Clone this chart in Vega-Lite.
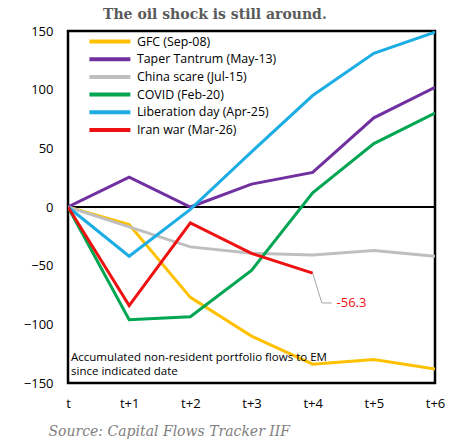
{
  "$schema": "https://vega.github.io/schema/vega-lite/v6.json",
  "autosize": "none",
  "width": 367,
  "height": 352,
  "padding": {"left": 68, "top": 31, "right": 33, "bottom": 56},
  "background": "white",
  "config": {
    "view": {"stroke": "black", "strokeWidth": 2.5},
    "font": "Open Sans"
  },
  "title": {
    "text": "The oil shock is still around.",
    "font": "DejaVu Serif",
    "fontSize": 14,
    "fontWeight": "bold",
    "color": "#5a5a5a",
    "anchor": "start",
    "frame": "group",
    "baseline": "alphabetic",
    "dx": 35,
    "dy": 13,
    "offset": 5
  },
  "datasets": {
    "flows": [
      {"series": "GFC (Sep-08)", "t": 0, "value": 0},
      {"series": "GFC (Sep-08)", "t": 1, "value": -15},
      {"series": "GFC (Sep-08)", "t": 2, "value": -77},
      {"series": "GFC (Sep-08)", "t": 3, "value": -110},
      {"series": "GFC (Sep-08)", "t": 4, "value": -134},
      {"series": "GFC (Sep-08)", "t": 5, "value": -130},
      {"series": "GFC (Sep-08)", "t": 6, "value": -138},
      {"series": "Taper Tantrum (May-13)", "t": 0, "value": 0},
      {"series": "Taper Tantrum (May-13)", "t": 1, "value": 25.5},
      {"series": "Taper Tantrum (May-13)", "t": 2, "value": 0},
      {"series": "Taper Tantrum (May-13)", "t": 3, "value": 19.5},
      {"series": "Taper Tantrum (May-13)", "t": 4, "value": 29.5},
      {"series": "Taper Tantrum (May-13)", "t": 5, "value": 76},
      {"series": "Taper Tantrum (May-13)", "t": 6, "value": 102},
      {"series": "China scare (Jul-15)", "t": 0, "value": 0},
      {"series": "China scare (Jul-15)", "t": 1, "value": -17},
      {"series": "China scare (Jul-15)", "t": 2, "value": -34},
      {"series": "China scare (Jul-15)", "t": 3, "value": -39.5},
      {"series": "China scare (Jul-15)", "t": 4, "value": -41},
      {"series": "China scare (Jul-15)", "t": 5, "value": -37},
      {"series": "China scare (Jul-15)", "t": 6, "value": -42},
      {"series": "COVID (Feb-20)", "t": 0, "value": 0},
      {"series": "COVID (Feb-20)", "t": 1, "value": -96},
      {"series": "COVID (Feb-20)", "t": 2, "value": -93.5},
      {"series": "COVID (Feb-20)", "t": 3, "value": -54},
      {"series": "COVID (Feb-20)", "t": 4, "value": 12},
      {"series": "COVID (Feb-20)", "t": 5, "value": 54},
      {"series": "COVID (Feb-20)", "t": 6, "value": 80},
      {"series": "Liberation day (Apr-25)", "t": 0, "value": 0},
      {"series": "Liberation day (Apr-25)", "t": 1, "value": -42},
      {"series": "Liberation day (Apr-25)", "t": 2, "value": -2},
      {"series": "Liberation day (Apr-25)", "t": 3, "value": 47},
      {"series": "Liberation day (Apr-25)", "t": 4, "value": 95},
      {"series": "Liberation day (Apr-25)", "t": 5, "value": 131},
      {"series": "Liberation day (Apr-25)", "t": 6, "value": 149},
      {"series": "Iran war (Mar-26)", "t": 0, "value": 0},
      {"series": "Iran war (Mar-26)", "t": 1, "value": -84},
      {"series": "Iran war (Mar-26)", "t": 2, "value": -13.5},
      {"series": "Iran war (Mar-26)", "t": 3, "value": -39.5},
      {"series": "Iran war (Mar-26)", "t": 4, "value": -56.3}
    ],
    "leader": [
      {"t": 4, "value": -56.3, "k": 0},
      {"t": 4.15, "value": -81.8, "k": 1},
      {"t": 4.31, "value": -81.8, "k": 2}
    ],
    "callout": [
      {"t": 4.39, "value": -81.8, "label": "-56.3"}
    ],
    "note": [
      {"t": 0, "value": -128.7, "label": "Accumulated non-resident portfolio flows to EM"},
      {"t": 0, "value": -141, "label": "since indicated date"}
    ]
  },
  "encoding": {
    "x": {
      "field": "t",
      "type": "quantitative",
      "scale": {"domain": [0, 6], "nice": false, "zero": false},
      "axis": {
        "values": [0, 1, 2, 3, 4, 5, 6],
        "labelExpr": "datum.value == 0 ? 't' : 't+' + datum.value",
        "grid": false,
        "ticks": false,
        "domain": false,
        "labelFont": "Open Sans",
        "labelFontSize": 13,
        "labelColor": "black",
        "labelPadding": 14,
        "labelFlush": false,
        "title": "Source: Capital Flows Tracker IIF",
        "titleFont": "DejaVu Serif",
        "titleFontStyle": "italic",
        "titleFontWeight": "normal",
        "titleFontSize": 14,
        "titleColor": "#7f7f7f",
        "titleAnchor": "start",
        "titleAlign": "left",
        "titleBaseline": "alphabetic",
        "titleX": -20,
        "titleY": 52
      }
    },
    "y": {
      "field": "value",
      "type": "quantitative",
      "scale": {"domain": [-150, 150], "nice": false},
      "axis": {
        "values": [-150, -100, -50, 0, 50, 100, 150],
        "grid": false,
        "ticks": false,
        "domain": false,
        "labelFont": "Open Sans",
        "labelFontSize": 13,
        "labelColor": "black",
        "labelPadding": 15,
        "labelFlush": false,
        "title": null
      }
    }
  },
  "layer": [
    {
      "data": {"values": [{"value": 0}]},
      "mark": {"type": "rule", "color": "black", "strokeWidth": 2},
      "encoding": {"x": null, "y": {"field": "value", "type": "quantitative"}}
    },
    {
      "data": {"name": "flows"},
      "mark": {"type": "line", "strokeWidth": 3, "strokeJoin": "miter", "clip": true},
      "encoding": {
        "color": {
          "field": "series",
          "type": "nominal",
          "scale": {
            "domain": ["GFC (Sep-08)", "Taper Tantrum (May-13)", "China scare (Jul-15)", "COVID (Feb-20)", "Liberation day (Apr-25)", "Iran war (Mar-26)"],
            "range": ["#ffc000", "#7030a0", "#bfbfbf", "#00a651", "#1cade4", "#ee1111"]
          },
          "legend": {
            "title": null,
            "orient": "none",
            "legendX": 34.4,
            "legendY": 3,
            "padding": 0,
            "symbolType": "M-4,0H4",
            "symbolSize": 105,
            "symbolStrokeWidth": 4,
            "labelFont": "Open Sans",
            "labelFontSize": 12.4,
            "labelColor": "black",
            "labelOffset": 19.5,
            "rowPadding": 0.7,
            "labelLimit": 300
          }
        }
      }
    },
    {
      "data": {"name": "leader"},
      "mark": {"type": "line", "color": "#a6a6a6", "strokeWidth": 1},
      "encoding": {"order": {"field": "k"}}
    },
    {
      "data": {"name": "callout"},
      "mark": {"type": "text", "align": "left", "baseline": "middle", "color": "#ee1111", "font": "Open Sans", "fontSize": 13},
      "encoding": {"text": {"field": "label"}}
    },
    {
      "data": {"name": "note"},
      "mark": {"type": "text", "align": "left", "baseline": "middle", "dx": 3, "color": "black", "font": "Open Sans", "fontSize": 11.5},
      "encoding": {"text": {"field": "label"}}
    }
  ]
}
